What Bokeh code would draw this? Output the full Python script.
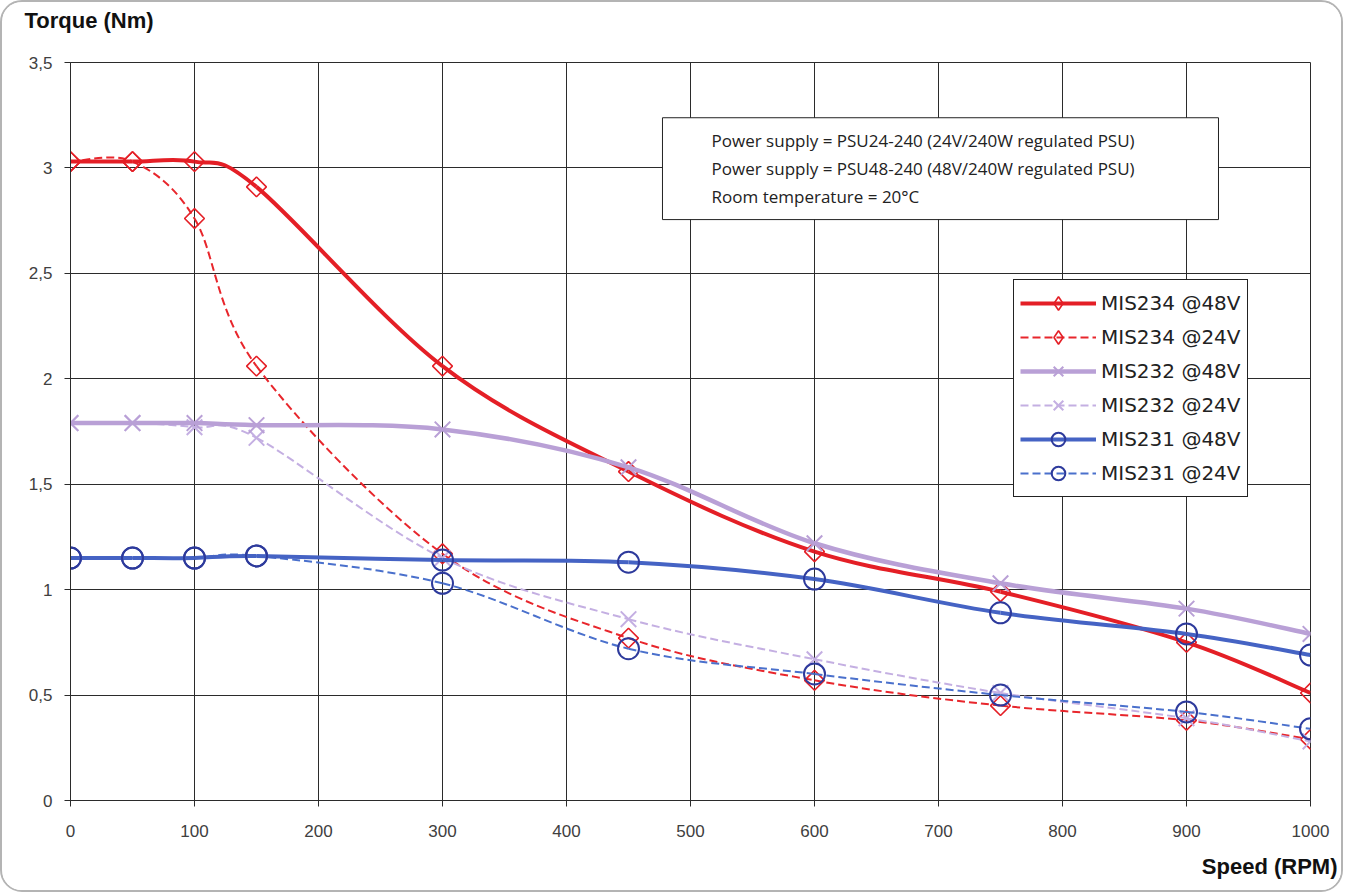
import numpy as np
from bokeh.plotting import figure
from bokeh.models import (Range1d, FixedTicker, Legend, LegendItem, Label,
                          BoxAnnotation, ColumnDataSource, Title)
from bokeh.embed import file_html
from bokeh.resources import INLINE

# ---------------- data ----------------
speed = [0, 50, 100, 150, 300, 450, 600, 750, 900, 1000]
mis234_48 = [3.03, 3.03, 3.03, 2.91, 2.06, 1.56, 1.18, 0.99, 0.75, 0.51]
mis234_24 = [3.03, 3.03, 2.76, 2.06, 1.17, 0.77, 0.57, 0.45, 0.38, 0.29]
mis232_48 = [1.79, 1.79, 1.79, 1.78, 1.76, 1.58, 1.22, 1.03, 0.91, 0.79]
mis232_24 = [1.79, 1.79, 1.77, 1.72, 1.15, 0.86, 0.67, 0.51, 0.39, 0.28]
mis231_48 = [1.15, 1.15, 1.15, 1.16, 1.14, 1.13, 1.05, 0.89, 0.79, 0.69]
mis231_24 = [1.15, 1.15, 1.15, 1.16, 1.03, 0.72, 0.60, 0.50, 0.42, 0.34]

series_names = ["MIS234 @48V", "MIS234 @24V", "MIS232 @48V",
                "MIS232 @24V", "MIS231 @48V", "MIS231 @24V"]
x_ticks = [0, 100, 200, 300, 400, 500, 600, 700, 800, 900, 1000]
y_ticks = [0, 0.5, 1, 1.5, 2, 2.5, 3, 3.5]
y_tick_labels = ["0", "0,5", "1", "1,5", "2", "2,5", "3", "3,5"]
note_lines = ["Power supply = PSU24-240 (24V/240W regulated PSU)",
              "Power supply = PSU48-240 (48V/240W regulated PSU)",
              "Room temperature = 20°C"]

# ---------------- helpers ----------------
def smooth_segments(xs, ys):
    """Excel-like smoothed line: cubic Bezier segments through the points."""
    P = np.column_stack([xs, ys]).astype(float)
    prev = np.vstack([P[:1], P[:-2]])
    nxt = np.vstack([P[2:], P[-1:]])
    c0 = P[:-1] + (P[1:] - prev) / 6.0
    c1 = P[1:] - (nxt - P[:-1]) / 6.0
    return dict(x0=P[:-1, 0], y0=P[:-1, 1], x1=P[1:, 0], y1=P[1:, 1],
                cx0=c0[:, 0], cy0=c0[:, 1], cx1=c1[:, 0], cy1=c1[:, 1])

p = figure(width=1343, height=892,
           x_range=Range1d(0, 1000), y_range=Range1d(0, 3.5),
           output_backend="svg", toolbar_location=None,
           min_border_left=68, min_border_right=35,
           min_border_top=60, min_border_bottom=94,
           background_fill_color="white", border_fill_color="white")
p.styles = {"border": "2px solid #b4b4b4", "border-radius": "22px",
            "overflow": "hidden"}

# grid
p.xgrid.ticker = FixedTicker(ticks=x_ticks)
p.ygrid.ticker = FixedTicker(ticks=y_ticks)
for g in (p.xgrid, p.ygrid):
    g.grid_line_color = "#2b2b2b"
    g.grid_line_width = 1
    g.grid_line_alpha = 1
p.outline_line_color = "#2b2b2b"
p.outline_line_width = 1

# axes
for ax in (p.xaxis, p.yaxis):
    ax.axis_line_color = "#2b2b2b"
    ax.major_tick_line_color = "#2b2b2b"
    ax.minor_tick_line_color = None
    ax.major_tick_in = 0
    ax.major_tick_out = 6
    ax.major_label_text_font = "Liberation Sans"
    ax.major_label_text_font_size = "17px"
    ax.major_label_text_color = "#404040"
p.xaxis.ticker = FixedTicker(ticks=x_ticks)
p.yaxis.ticker = FixedTicker(ticks=y_ticks)
p.yaxis.major_label_overrides = {t: l for t, l in zip(y_ticks, y_tick_labels)}
p.xaxis.major_label_standoff = 18
p.yaxis.major_label_standoff = 12

# series
styles = [
    dict(color="#e41f26", width=4, dash="solid", marker="square", lmarker="diamond", mcolor="#e41f26", size=14, angle=45, mlw=1.6),
    dict(color="#e8262c", width=2, dash="8 4", marker="square", lmarker="diamond", mcolor="#e41f26", size=14, angle=45, mlw=1.6),
    dict(color="#b9a0d6", width=4.5, dash="solid", marker="x", lmarker="x", mcolor="#b9a0d6", size=22, angle=0, mlw=2),
    dict(color="#c4afe2", width=2, dash="8 4", marker="x", lmarker="x", mcolor="#c4afe2", size=22, angle=0, mlw=2),
    dict(color="#4563c4", width=4, dash="solid", marker="circle", lmarker="circle", mcolor="#2d3a9c", size=21, angle=0, mlw=2),
    dict(color="#4a70cc", width=2, dash="8 4", marker="circle", lmarker="circle", mcolor="#2d3a9c", size=21, angle=0, mlw=2),
]
all_series = [mis234_48, mis234_24, mis232_48, mis232_24, mis231_48, mis231_24]

# draw dashed (24V) series first, solid (48V) on top
order = [1, 3, 5, 0, 2, 4]
legend_renderers = {}
for k in order:
    name, ys, st = series_names[k], all_series[k], styles[k]
    src = ColumnDataSource(smooth_segments(speed, ys))
    r_line = p.bezier(x0="x0", y0="y0", x1="x1", y1="y1",
                      cx0="cx0", cy0="cy0", cx1="cx1", cy1="cy1",
                      source=src, line_color=st["color"],
                      line_width=st["width"], line_dash=st["dash"])
    r_pts = p.scatter(x=speed, y=ys, marker=st["marker"], size=st["size"],
                      angle=st["angle"], angle_units="deg",
                      fill_color=None, line_color=st["mcolor"],
                      line_width=st["mlw"])
    if st["lmarker"] != st["marker"]:
        # legend markers are never rotated: zero-size proxy with diamond shape
        r_leg = p.scatter(x=speed, y=ys, marker=st["lmarker"], size=0,
                          fill_color=None, line_color=st["mcolor"],
                          line_width=st["mlw"])
    else:
        r_leg = r_pts
    legend_renderers[k] = [r_line, r_leg]

items = [LegendItem(label=series_names[k], renderers=legend_renderers[k])
         for k in range(len(series_names))]

legend = Legend(items=items, location=(943, 303),
                label_text_font="DejaVu Sans", label_text_font_size="20px",
                label_text_color="#222222",
                glyph_width=76, glyph_height=34, label_height=34,
                label_standoff=5, spacing=0, padding=6, margin=0,
                border_line_color="#222222", border_line_width=1,
                border_line_alpha=1,
                background_fill_color="white", background_fill_alpha=1)
p.add_layout(legend)

# note box
box = BoxAnnotation(left=477.4, right=925.8, top=3.238, bottom=2.755,
                    fill_color="white", fill_alpha=1,
                    line_color="#222222", line_alpha=1, line_width=1)
p.add_layout(box)
for i, txt in enumerate(note_lines):
    p.add_layout(Label(x=517, y=3.129 - i * 0.1328, text=txt,
                       text_font="Open Sans", text_font_size="17px",
                       text_color="#222222", text_baseline="middle"))

# axis titles (trailing blank line lifts the y-axis title towards the top)
p.add_layout(Title(text="Torque (Nm)\n ", align="left", offset=-46,
                   vertical_align="top",
                   text_font="Liberation Sans", text_font_size="22px",
                   text_font_style="bold", text_color="#111111",
                   standoff=5), "above")
p.add_layout(Title(text="Speed (RPM)", align="right", offset=-27,
                   text_font="Liberation Sans", text_font_size="22px",
                   text_font_style="bold", text_color="#111111",
                   standoff=25), "below")

open("out.html", "w").write(file_html(p, INLINE))
